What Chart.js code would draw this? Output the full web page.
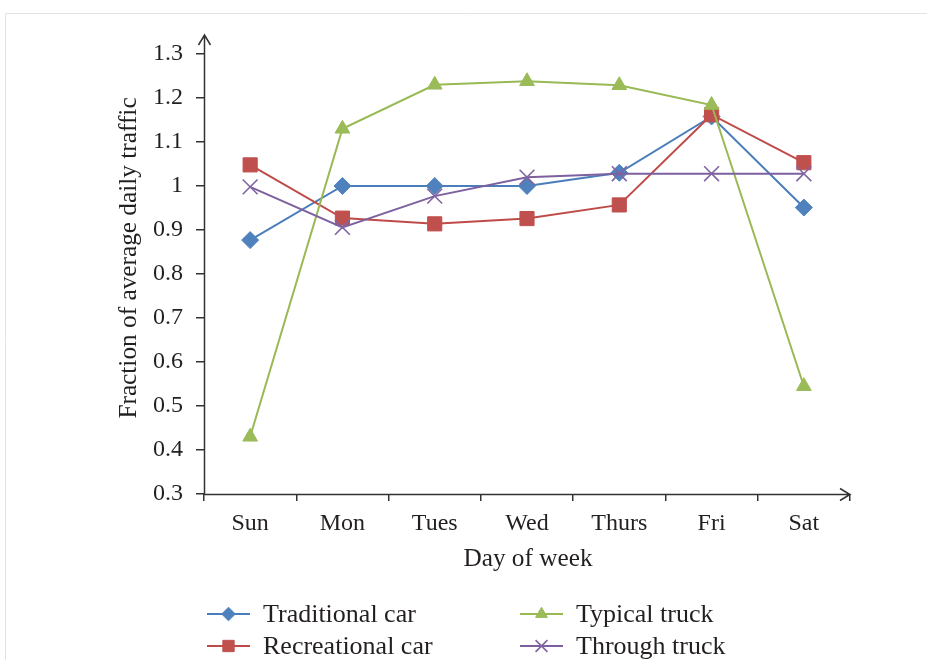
<!DOCTYPE html>
<html>
<head>
<meta charset="utf-8">
<script src="https://cdn.jsdelivr.net/npm/chart.js@4/dist/chart.umd.min.js"></script>
<style>
  html, body { margin: 0; padding: 0; background: #ffffff; }
  #wrap { width: 927px; height: 660px; position: relative; }
</style>
</head>
<body>
<div id="wrap"><canvas id="c" width="927" height="660"></canvas></div>
<script>
// ---- Data ----
const days = ['Sun', 'Mon', 'Tues', 'Wed', 'Thurs', 'Fri', 'Sat'];
const traditionalCar  = [0.877, 1.000, 1.000, 1.000, 1.030, 1.158, 0.951];
const recreationalCar = [1.048, 0.927, 0.914, 0.926, 0.957, 1.162, 1.053];
const typicalTruck    = [0.430, 1.130, 1.230, 1.238, 1.229, 1.184, 0.545];
const throughTruck    = [0.998, 0.906, 0.977, 1.020, 1.028, 1.028, 1.028];
const seriesNames = ['Traditional car', 'Recreational car', 'Typical truck', 'Through truck'];
const yMin = 0.3, yMax = 1.3, yStep = 0.1;
const xTitle = 'Day of week';
const yTitle = 'Fraction of average daily traffic';

const FONT = "'Liberation Serif', 'DejaVu Serif', serif";
const TEXT = '#231f20';
const AXIS = '#333333';

const datasets = [
  { label: seriesNames[0], data: traditionalCar, borderColor: '#4a7ebb', backgroundColor: '#4f81bd',
    pointStyle: 'rectRot', pointRadius: 8.5, pointBorderColor: '#4f81bd', pointBorderWidth: 1, order: 3 },
  { label: seriesNames[1], data: recreationalCar, borderColor: '#be4b48', backgroundColor: '#c0504d',
    pointStyle: 'rect', pointRadius: 10, pointBorderColor: '#c0504d', pointBorderWidth: 1, order: 2 },
  { label: seriesNames[2], data: typicalTruck, borderColor: '#98b954', backgroundColor: '#9bbb59',
    pointStyle: 'triangle', pointRadius: 8.5, pointBorderColor: '#9bbb59', pointBorderWidth: 1, order: 1 },
  { label: seriesNames[3], data: throughTruck, borderColor: '#7d60a0', backgroundColor: '#8064a2',
    pointStyle: 'crossRot', pointRadius: 10.5, pointBorderColor: '#8064a2', pointBorderWidth: 1.6, order: 0 }
].map(d => Object.assign({ borderWidth: 2, tension: 0, fill: false, clip: false, pointHoverRadius: d.pointRadius }, d));

const decor = {
  id: 'decor',
  beforeDraw(chart) {
    const ctx = chart.ctx;
    ctx.save();
    ctx.strokeStyle = '#e3e3e3';
    ctx.lineWidth = 1;
    ctx.beginPath();
    ctx.moveTo(5.5, 700);
    ctx.lineTo(5.5, 13.5);
    ctx.lineTo(1000, 13.5);
    ctx.stroke();
    ctx.restore();
  },
  afterDatasetsDraw(chart) {
    const ctx = chart.ctx;
    const a = chart.chartArea;
    ctx.save();
    ctx.strokeStyle = AXIS;
    ctx.lineWidth = 1.5;
    // y axis with arrow
    const yx = a.left + 0.5;
    const yTop = a.top - 19;
    ctx.beginPath();
    ctx.moveTo(yx, a.bottom + 0.5);
    ctx.lineTo(yx, yTop);
    ctx.moveTo(yx - 6, yTop + 10);
    ctx.lineTo(yx, yTop);
    ctx.lineTo(yx + 6, yTop + 10);
    // x axis with arrow
    const xy = a.bottom + 0.5;
    const xEnd = a.right;
    ctx.moveTo(a.left, xy);
    ctx.lineTo(xEnd, xy);
    ctx.moveTo(xEnd - 10, xy - 6);
    ctx.lineTo(xEnd, xy);
    ctx.lineTo(xEnd - 10, xy + 6);
    ctx.stroke();

    // axis titles
    ctx.fillStyle = TEXT;
    ctx.font = '25.3px ' + FONT;
    ctx.textAlign = 'center';
    ctx.textBaseline = 'alphabetic';
    ctx.fillText(xTitle, (a.left + a.right) / 2 + 1, 566);
    ctx.save();
    ctx.translate(136, 258);
    ctx.rotate(-Math.PI / 2);
    ctx.fillText(yTitle, 0, 0);
    ctx.restore();

    // legend
    const items = [
      { i: 0, x: 207, y: 614 }, { i: 1, x: 207, y: 646 },
      { i: 2, x: 520, y: 614 }, { i: 3, x: 520, y: 646 }
    ];
    ctx.font = '26px ' + FONT;
    ctx.textAlign = 'left';
    ctx.textBaseline = 'alphabetic';
    items.forEach(it => {
      const ds = chart.data.datasets[it.i];
      ctx.strokeStyle = ds.borderColor;
      ctx.lineWidth = 2;
      ctx.beginPath();
      ctx.moveTo(it.x, it.y);
      ctx.lineTo(it.x + 43, it.y);
      ctx.stroke();
      ctx.fillStyle = ds.backgroundColor;
      ctx.strokeStyle = ds.pointBorderColor;
      ctx.lineWidth = ds.pointBorderWidth;
      Chart.helpers.drawPoint(ctx, { pointStyle: ds.pointStyle, radius: ds.pointRadius * 0.8, rotation: 0, borderWidth: ds.pointBorderWidth }, it.x + 21.5, it.y);
      ctx.fillStyle = TEXT;
      ctx.fillText(ds.label, it.x + 56, it.y + 7.5);
    });
    ctx.restore();
  }
};

new Chart(document.getElementById('c'), {
  type: 'line',
  data: { labels: days, datasets: datasets },
  options: {
    responsive: false,
    animation: false,
    events: [],
    layout: { padding: { top: 54, right: 77, left: 0, bottom: 0 } },
    plugins: { legend: { display: false }, tooltip: { enabled: false }, title: { display: false } },
    scales: {
      x: {
        type: 'category',
        offset: true,
        border: { display: false },
        grid: {
          offset: true,
          drawOnChartArea: false,
          drawTicks: true,
          tickLength: 7,
          lineWidth: 1.5,
          color: (c) => (c.index >= days.length ? 'rgba(0,0,0,0)' : AXIS)
        },
        ticks: { color: TEXT, font: { family: FONT, size: 24 }, padding: 8, maxRotation: 0, autoSkip: false },
        afterFit: (s) => { s.height = 166; }
      },
      y: {
        min: yMin, max: yMax,
        border: { display: false },
        grid: { drawOnChartArea: false, drawTicks: true, tickLength: 8, lineWidth: 1.5, color: AXIS },
        ticks: {
          stepSize: yStep, color: TEXT, font: { family: FONT, size: 24 }, padding: 13,
          callback: (v) => String(Number(Number(v).toFixed(1)))
        },
        afterFit: (s) => { s.width = 204; }
      }
    }
  },
  plugins: [decor]
});
</script>
</body>
</html>
